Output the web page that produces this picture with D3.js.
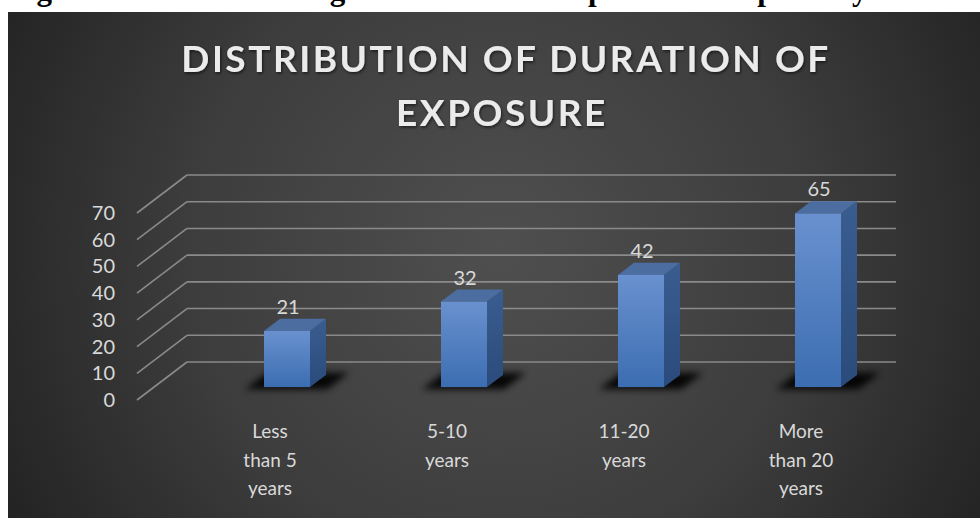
<!DOCTYPE html>
<html><head><meta charset="utf-8">
<script src="https://cdn.jsdelivr.net/npm/d3@7"></script>
<style>html,body{margin:0;padding:0;background:#fff;}svg{display:block;}</style>
</head><body>
<svg id="c" width="980" height="518"></svg>
<script>
const categories = ["Less than 5 years", "5-10 years", "11-20 years", "More than 20 years"];
const categoryLines = [["Less", "than 5", "years"], ["5-10", "years"], ["11-20", "years"], ["More", "than 20", "years"]];
const values = [21, 32, 42, 65];
const yTicks = [0, 10, 20, 30, 40, 50, 60, 70];
const titleLines = ["DISTRIBUTION OF DURATION OF", "EXPOSURE"];
const captionText = "Fig. 3: Bar chart showing the duration of exposure to respiratory hazard";

const svg = d3.select("#c");
const W = 980, H = 518;
const defs = svg.append("defs");

// background gradient
const rg = defs.append("radialGradient").attr("id", "bg")
  .attr("gradientUnits", "userSpaceOnUse").attr("cx", 500).attr("cy", 250).attr("r", 560);
rg.append("stop").attr("offset", "0").attr("stop-color", "#4f4f4f");
rg.append("stop").attr("offset", "0.55").attr("stop-color", "#3d3d3d");
rg.append("stop").attr("offset", "1").attr("stop-color", "#232323");

const fg = defs.append("linearGradient").attr("id", "front").attr("x1", 0).attr("y1", 0).attr("x2", 0).attr("y2", 1);
fg.append("stop").attr("offset", "0").attr("stop-color", "#6991cf");
fg.append("stop").attr("offset", "1").attr("stop-color", "#3c6db1");
const sg = defs.append("linearGradient").attr("id", "side").attr("x1", 0).attr("y1", 0).attr("x2", 0).attr("y2", 1);
sg.append("stop").attr("offset", "0").attr("stop-color", "#3a5d90");
sg.append("stop").attr("offset", "1").attr("stop-color", "#2a4b7b");

const blur = defs.append("filter").attr("id", "blur").attr("x", "-50%").attr("y", "-100%").attr("width", "200%").attr("height", "300%");
blur.append("feGaussianBlur").attr("stdDeviation", 3.5);
const tsh = defs.append("filter").attr("id", "tsh").attr("x", "-10%").attr("y", "-30%").attr("width", "120%").attr("height", "160%");
tsh.append("feDropShadow").attr("dx", 1).attr("dy", 1.5).attr("stdDeviation", 1.5).attr("flood-color", "#000").attr("flood-opacity", 0.6);

// caption strip (cut off at top, as in the source)
svg.append("text").attr("x", 9).attr("y", 0)
  .attr("font-family", "Liberation Serif, Times New Roman, serif").attr("font-weight", "bold")
  .attr("font-size", 31).attr("fill", "#000").text(captionText);

// chart area
svg.append("rect").attr("x", 8).attr("y", 12).attr("width", W - 8).attr("height", H - 12).attr("fill", "url(#bg)");

// title
const title = svg.append("g").attr("filter", "url(#tsh)");
const tl1 = title.append("text").attr("x", 506).attr("y", 72).attr("text-anchor", "middle")
  .attr("font-family", "Lato, sans-serif").attr("font-weight", "bold").attr("font-size", 37)
  .attr("fill", "#ebebeb").text(titleLines[0]);
const w0 = tl1.node().getComputedTextLength();
const ls = (647 - w0) / (titleLines[0].length - 1);
tl1.attr("letter-spacing", ls);
title.append("text").attr("x", 502).attr("y", 126).attr("text-anchor", "middle")
  .attr("font-family", "Lato, sans-serif").attr("font-weight", "bold").attr("font-size", 37)
  .attr("letter-spacing", ls).attr("fill", "#ebebeb").text(titleLines[1]);

// 3D geometry
const DX = 50, DY = -38;           // wall depth vector
const xLeft = 137, xRightBack = 896;
const y = d3.scaleLinear().domain([0, 70]).range([400, 213]);
const x = d3.scaleBand().domain(categories).range([181.5, 889.5]).paddingInner(0.74).paddingOuter(0.37);
const f0 = 0.34, f1 = 0.66;
const pt = (xf, v, f) => [xf + f * DX, y(v) + f * DY];
const poly = pts => "M" + pts.map(p => p.join(",")).join("L") + "Z";

// gridlines: side wall diagonals + back wall
const grid = svg.append("g").attr("stroke", "#8a8a8a").attr("stroke-width", 1.6).attr("fill", "none");
grid.selectAll("line.diag").data(yTicks).join("line").attr("class", "diag")
  .attr("x1", xLeft).attr("y1", d => y(d))
  .attr("x2", xLeft + DX).attr("y2", d => y(d) + DY);
grid.selectAll("line.back").data(yTicks).join("line").attr("class", "back")
  .attr("x1", xLeft + DX).attr("y1", d => y(d) + DY)
  .attr("x2", xRightBack).attr("y2", d => y(d) + DY);

// y axis labels
svg.append("g").selectAll("text").data(yTicks).join("text")
  .attr("x", 115).attr("y", d => y(d)).attr("dy", "0.35em").attr("text-anchor", "end")
  .attr("font-family", "Lato, sans-serif").attr("font-size", 20).attr("fill", "#d9d9d9")
  .text(d => d);

const data = categories.map((c, i) => ({ c, v: values[i], lines: categoryLines[i] }));

// shadows (blurred, enlarged floor footprint)
svg.append("g").selectAll("path").data(data).join("path")
  .attr("fill", "#000").attr("opacity", 0.9).attr("filter", "url(#blur)")
  .attr("d", d => {
    const x0 = x(d.c) - 16, x1 = x(d.c) + x.bandwidth() + 20;
    return poly([pt(x0, 0, f0 - 0.06), pt(x1, 0, f0 - 0.06), pt(x1, 0, f1 + 0.06), pt(x0, 0, f1 + 0.06)]);
  });

// bars
const bars = svg.append("g").selectAll("g").data(data).join("g");
bars.append("path").attr("fill", "url(#side)").attr("d", d => {
  const x1 = x(d.c) + x.bandwidth();
  return poly([pt(x1, 0, f0), pt(x1, d.v, f0), pt(x1, d.v, f1), pt(x1, 0, f1)]);
});
bars.append("path").attr("fill", "#4b6d9f").attr("d", d => {
  const x0 = x(d.c), x1 = x0 + x.bandwidth();
  return poly([pt(x0, d.v, f0), pt(x1, d.v, f0), pt(x1, d.v, f1), pt(x0, d.v, f1)]);
});
bars.append("rect").attr("fill", "url(#front)")
  .attr("x", d => pt(x(d.c), d.v, f0)[0]).attr("y", d => pt(x(d.c), d.v, f0)[1])
  .attr("width", x.bandwidth()).attr("height", d => y(0) - y(d.v));

// value labels
svg.append("g").selectAll("text").data(data).join("text")
  .attr("x", d => pt(x(d.c) + x.bandwidth() / 2, d.v, f0)[0] + 1)
  .attr("y", d => pt(0, d.v, f0)[1] - 17)
  .attr("text-anchor", "middle").attr("font-family", "Lato, sans-serif").attr("font-size", 20)
  .attr("fill", "#d9d9d9").text(d => d.v);

// category labels
const cl = svg.append("g").selectAll("text").data(data).join("text")
  .attr("text-anchor", "middle").attr("font-family", "Lato, sans-serif").attr("font-size", 19)
  .attr("fill", "#d9d9d9");
cl.selectAll("tspan").data(d => d.lines.map(l => ({ l, cx: x(d.c) + x.bandwidth() / 2 })))
  .join("tspan").attr("x", t => t.cx).attr("y", (t, i) => 438 + i * 28.7).text(t => t.l);
</script>
</body></html>
